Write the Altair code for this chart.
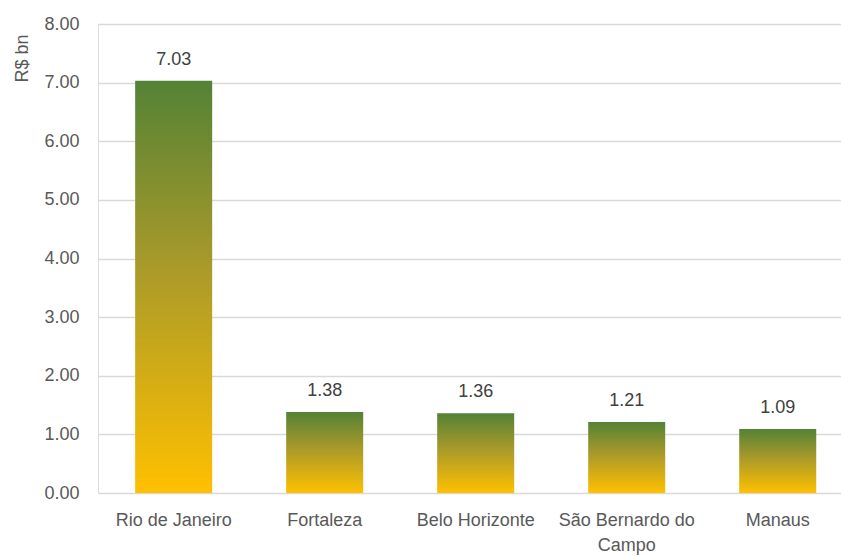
import altair as alt
import pandas as pd

cities = ["Rio de Janeiro", "Fortaleza", "Belo Horizonte", "São Bernardo do Campo", "Manaus"]
values = [7.03, 1.38, 1.36, 1.21, 1.09]
y_ticks = [0, 1, 2, 3, 4, 5, 6, 7, 8]

df = pd.DataFrame({"city": cities, "value": values})

FONT = "Liberation Sans"

x = alt.X(
    "city:N",
    sort=cities,
    title=None,
    scale=alt.Scale(paddingInner=0.49, paddingOuter=0.205, align=0.6),
    axis=alt.Axis(
        labelAngle=0,
        labelFont=FONT,
        labelFontSize=18,
        labelColor="#595959",
        labelPadding=18,
        labelLineHeight=25,
        labelLimit=300,
        ticks=False,
        domain=False,
        labelExpr="datum.label == 'São Bernardo do Campo' ? ['São Bernardo do', 'Campo'] : datum.label",
    ),
)

y = alt.Y(
    "value:Q",
    scale=alt.Scale(domain=[0, 8], nice=False),
    axis=alt.Axis(
        values=y_ticks,
        format=".2f",
        title="R$ bn",
        titleFont=FONT,
        titleFontSize=18,
        titleFontWeight="normal",
        titleColor="#595959",
        titleAngle=-90,
        titleX=-76,
        titleY=34,
        titleAlign="center",
        titleBaseline="middle",
        labelFont=FONT,
        labelFontSize=18,
        labelColor="#595959",
        labelPadding=19,
        ticks=False,
        domain=False,
        grid=True,
        gridColor="#d9d9d9",
        gridWidth=1.5,
    ),
)

bars = alt.Chart(df).mark_bar(
    color=alt.Gradient(
        gradient="linear",
        stops=[
            alt.GradientStop(color="#548235", offset=0),
            alt.GradientStop(color="#A99A2A", offset=0.45),
            alt.GradientStop(color="#FFC000", offset=1),
        ],
        x1=0, x2=0, y1=0, y2=1,
    )
).encode(x=x, y=y)

labels = alt.Chart(df).mark_text(
    font=FONT, fontSize=18, color="#404040", baseline="bottom", dy=-12
).encode(x=alt.X("city:N", sort=cities), y="value:Q", text=alt.Text("value:Q", format=".2f"))

chart = (bars + labels).properties(
    width=743,
    height=469,
    autosize=alt.AutoSizeParams(type="none"),
    padding={"left": 98, "top": 24, "right": 0, "bottom": 63},
).configure_view(stroke=None).configure(background="white")

chart.save("out.html", embed_options={"renderer": "svg", "actions": False})
